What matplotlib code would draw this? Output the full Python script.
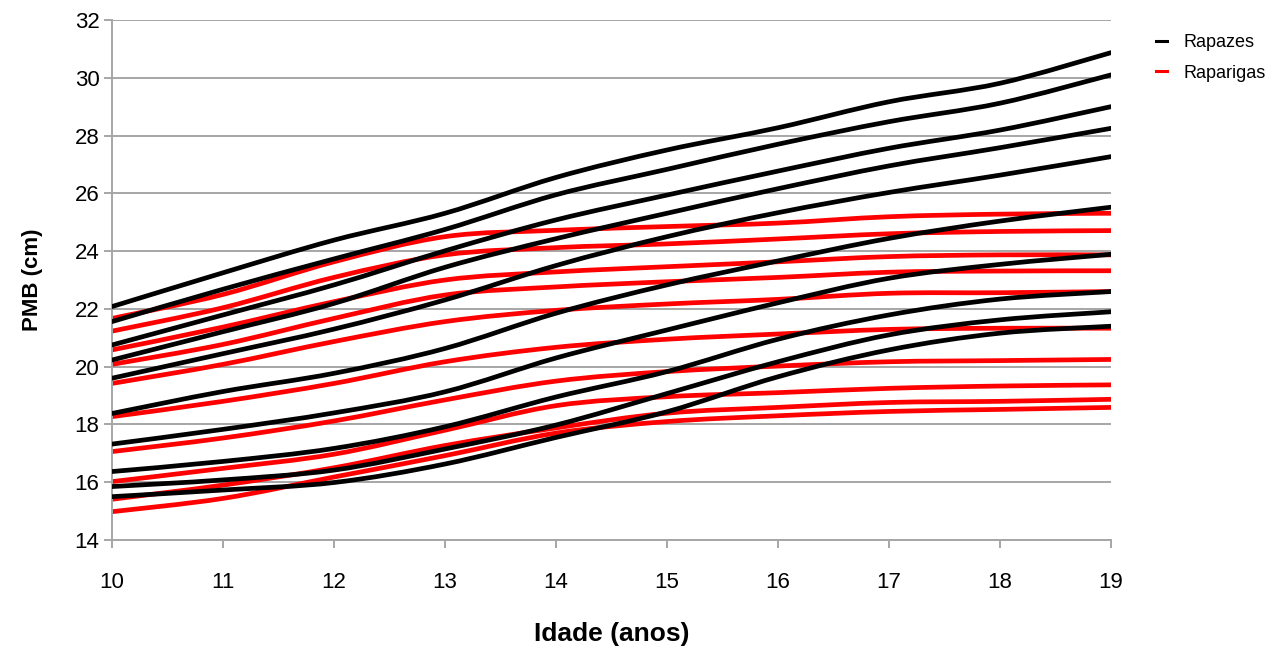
import numpy as np
import matplotlib
matplotlib.use("Agg")
import matplotlib.pyplot as plt
from matplotlib.path import Path
from matplotlib.patches import PathPatch
from matplotlib.lines import Line2D

plt.rcParams['font.family'] = ['Liberation Sans', 'DejaVu Sans']

# Idade (anos)
ages = [10, 11, 12, 13, 14, 15, 16, 17, 18, 19]

# Perímetro do membro braquial (cm) - curvas de percentis, rapazes
rapazes_p1 = [22.08, 23.25, 24.38, 25.31, 26.55, 27.50, 28.27, 29.17, 29.81, 30.87]
rapazes_p2 = [21.56, 22.68, 23.73, 24.75, 25.95, 26.83, 27.70, 28.48, 29.12, 30.10]
rapazes_p3 = [20.75, 21.79, 22.83, 24.01, 25.08, 25.94, 26.77, 27.56, 28.19, 29.00]
rapazes_p4 = [20.23, 21.21, 22.19, 23.44, 24.43, 25.31, 26.16, 26.95, 27.58, 28.25]
rapazes_p5 = [19.60, 20.45, 21.30, 22.31, 23.50, 24.50, 25.33, 26.03, 26.63, 27.27]
rapazes_p6 = [18.38, 19.14, 19.77, 20.63, 21.85, 22.83, 23.66, 24.44, 25.04, 25.52]
rapazes_p7 = [17.32, 17.83, 18.40, 19.13, 20.30, 21.27, 22.21, 23.06, 23.54, 23.89]
rapazes_p8 = [16.37, 16.72, 17.17, 17.92, 18.95, 19.83, 20.95, 21.79, 22.34, 22.60]
rapazes_p9 = [15.85, 16.08, 16.42, 17.15, 17.98, 19.07, 20.17, 21.10, 21.62, 21.90]
rapazes_p10 = [15.50, 15.73, 15.99, 16.63, 17.55, 18.44, 19.65, 20.58, 21.16, 21.40]

# Raparigas
raparigas_p1 = [21.67, 22.50, 23.63, 24.50, 24.72, 24.85, 24.97, 25.19, 25.28, 25.31]
raparigas_p2 = [21.23, 22.04, 23.09, 23.87, 24.12, 24.25, 24.42, 24.60, 24.68, 24.71]
raparigas_p3 = [20.58, 21.37, 22.25, 23.00, 23.28, 23.46, 23.63, 23.81, 23.87, 23.87]
raparigas_p4 = [20.08, 20.77, 21.67, 22.48, 22.76, 22.94, 23.09, 23.27, 23.31, 23.32]
raparigas_p5 = [19.42, 20.08, 20.87, 21.56, 21.95, 22.17, 22.33, 22.54, 22.56, 22.60]
raparigas_p6 = [18.27, 18.80, 19.42, 20.17, 20.67, 20.95, 21.13, 21.29, 21.33, 21.33]
raparigas_p7 = [17.06, 17.53, 18.12, 18.85, 19.50, 19.83, 20.02, 20.17, 20.21, 20.25]
raparigas_p8 = [16.02, 16.48, 16.97, 17.80, 18.65, 18.96, 19.10, 19.25, 19.33, 19.37]
raparigas_p9 = [15.41, 15.90, 16.50, 17.27, 17.88, 18.39, 18.59, 18.76, 18.80, 18.87]
raparigas_p10 = [14.98, 15.44, 16.18, 16.92, 17.70, 18.10, 18.30, 18.45, 18.52, 18.59]

rapazes = [rapazes_p1, rapazes_p2, rapazes_p3, rapazes_p4, rapazes_p5,
           rapazes_p6, rapazes_p7, rapazes_p8, rapazes_p9, rapazes_p10]
raparigas = [raparigas_p1, raparigas_p2, raparigas_p3, raparigas_p4, raparigas_p5,
             raparigas_p6, raparigas_p7, raparigas_p8, raparigas_p9, raparigas_p10]

yticks = [14, 16, 18, 20, 22, 24, 26, 28, 30, 32]


def smooth_path(x, y):
    """Smoothed line through the points (cubic Bezier segments, Catmull-Rom style)."""
    pts = np.column_stack([x, y]).astype(float)
    n = len(pts)
    verts = [pts[0]]
    codes = [Path.MOVETO]
    for i in range(n - 1):
        p0 = pts[i - 1] if i > 0 else pts[i]
        p1 = pts[i]
        p2 = pts[i + 1]
        p3 = pts[i + 2] if i + 2 < n else pts[i + 1]
        c1 = p1 + (p2 - p0) / 6.0
        c2 = p2 - (p3 - p1) / 6.0
        verts += [c1, c2, p2]
        codes += [Path.CURVE4] * 3
    return Path(verts, codes)


fig = plt.figure(figsize=(12.82, 6.49), dpi=100)
ax = fig.add_axes([112 / 1282, 1 - 540 / 649, 999 / 1282, 520 / 649])

grid_color = '#a6a6a6'
ax.set_xlim(10, 19)
ax.set_ylim(14, 32)
ax.set_yticks(yticks)
ax.set_xticks(ages)
ax.yaxis.grid(True, color=grid_color, linewidth=1.4)
ax.set_axisbelow(True)

lw = 3.4
for serie in raparigas:
    ax.add_patch(PathPatch(smooth_path(ages, serie), fill=False, edgecolor='#ff0000',
                           linewidth=lw, capstyle='round', joinstyle='round', zorder=2))
for serie in rapazes:
    ax.add_patch(PathPatch(smooth_path(ages, serie), fill=False, edgecolor='#000000',
                           linewidth=lw, capstyle='round', joinstyle='round', zorder=3))

for side in ['top', 'right']:
    ax.spines[side].set_visible(False)
for side in ['left', 'bottom']:
    ax.spines[side].set_color(grid_color)
    ax.spines[side].set_linewidth(1.4)

ax.tick_params(axis='both', direction='out', length=6, width=1.4, color=grid_color,
               labelsize=16, labelcolor='black')
ax.tick_params(axis='x', pad=17)
ax.tick_params(axis='y', pad=3)

ax.set_xlabel('Idade (anos)', fontsize=19, fontweight='bold', labelpad=21)
ax.set_ylabel('PMB (cm)', fontsize=16, fontweight='bold', labelpad=23)

handles = [Line2D([], [], color='#000000', linewidth=2.2),
           Line2D([], [], color='#ff0000', linewidth=2.2)]
fig.legend(handles, ['Rapazes', 'Raparigas'], loc='upper left',
           bbox_to_anchor=(1140 / 1282, 1 - 18 / 649), frameon=False,
           fontsize=13, handlelength=0.6, handletextpad=0.9, labelspacing=0.75)

fig.savefig('out.png', dpi=100)
